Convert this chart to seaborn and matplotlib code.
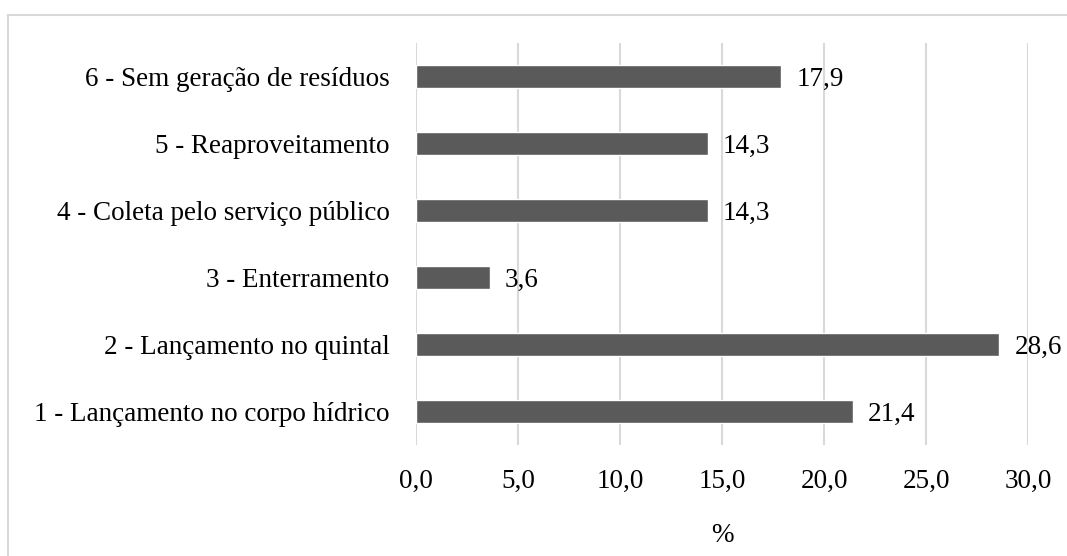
import matplotlib
matplotlib.use('Agg')
import matplotlib.pyplot as plt
import seaborn as sns
import pandas as pd
from matplotlib.lines import Line2D

# Data (top to bottom)
categories = [
    "6 - Sem geração de resíduos",
    "5 - Reaproveitamento",
    "4 - Coleta pelo serviço público",
    "3 - Enterramento",
    "2 - Lançamento no quintal",
    "1 - Lançamento no corpo hídrico",
]
values = [17.9, 14.3, 14.3, 3.6, 28.6, 21.4]
xticks = [0, 5, 10, 15, 20, 25, 30]

sns.set_theme(style="white")
plt.rcParams['font.family'] = ['Liberation Serif', 'DejaVu Serif']

FS = 19.5
df = pd.DataFrame({"categoria": categories, "pct": values})

fig = plt.figure(figsize=(10.67, 5.56), dpi=100)
ax = fig.add_axes([0.390, 0.1996, 0.5735, 0.7231])

sns.barplot(data=df, x="pct", y="categoria", order=categories, orient="h",
            color="#5a5a5a", saturation=1, width=0.34, ax=ax, zorder=3)

ax.set_xlim(0, 30)
ax.set_ylim(len(categories) - 0.5, -0.5)
ax.set_xticks(xticks)
ax.set_xticklabels([f"{t:.1f}".replace(".", ",") for t in xticks])
ax.grid(axis="x", color="#d9d9d9", linewidth=1.5, zorder=0)
ax.grid(axis="y", visible=False)
for s in ax.spines.values():
    s.set_visible(False)

ax.tick_params(axis="x", length=0, pad=17, labelsize=FS, colors="#000000")
ax.tick_params(axis="y", length=0, pad=19, labelsize=FS, colors="#000000")
ax.set_ylabel("")
ax.set_xlabel("%", fontsize=FS, labelpad=21, color="#000000")

texts = ax.bar_label(ax.containers[0], labels=[f"{v:.1f}".replace(".", ",") for v in values],
                     padding=11, fontsize=FS, color="#000000")
for t in texts:
    t.set_va("center_baseline")

# light grey frame (top and left edges visible)
fig.add_artist(Line2D([8 / 1067, 1.0], [1 - 15 / 556] * 2, transform=fig.transFigure,
                      color="#d9d9d9", linewidth=1.5))
fig.add_artist(Line2D([8 / 1067] * 2, [0.0, 1 - 15 / 556], transform=fig.transFigure,
                      color="#d9d9d9", linewidth=1.5))

fig.savefig("out.png", dpi=100, facecolor="white")
